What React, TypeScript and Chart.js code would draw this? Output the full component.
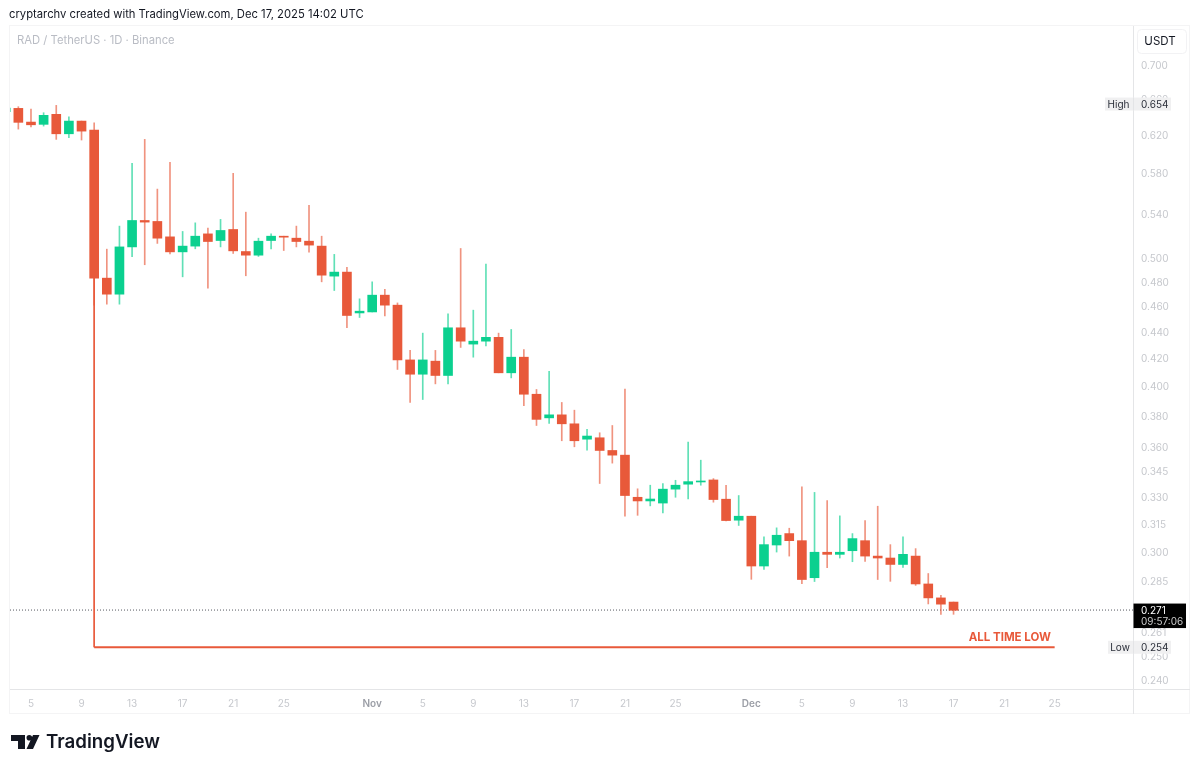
import React, { useEffect, useRef } from "react";
import { Chart, registerables } from "chart.js";

Chart.register(...registerables);

// Daily candles, index 0 in these arrays is Oct 3; x value = array index - 2 (days since Oct 5)
const firstDay = -2;
const opens = [0.6455,0.6491,0.6338,0.6313,0.6424,0.6210,0.6349,0.6250,0.4830,0.4697,0.5100,0.5340,0.5331,0.5190,0.5056,0.5107,0.5217,0.5157,0.5257,0.5059,0.5027,0.5157,0.5196,0.5178,0.5151,0.5107,0.4847,0.4881,0.4546,0.4554,0.4689,0.4608,0.4189,0.4086,0.4180,0.4077,0.4430,0.4306,0.4328,0.4357,0.4096,0.4209,0.3946,0.3787,0.3807,0.3748,0.3649,0.3658,0.3578,0.3549,0.3298,0.3277,0.3265,0.3345,0.3374,0.3387,0.3399,0.3287,0.3169,0.3191,0.2926,0.3035,0.3096,0.3058,0.2867,0.2997,0.2986,0.3005,0.3058,0.2977,0.2967,0.2934,0.2977,0.2836,0.2768,0.2748];
const closes = [0.6495,0.6335,0.6308,0.6413,0.6210,0.6349,0.6239,0.4830,0.4697,0.5100,0.5340,0.5325,0.5178,0.5056,0.5107,0.5196,0.5148,0.5248,0.5065,0.5027,0.5151,0.5196,0.5187,0.5148,0.5116,0.4855,0.4881,0.4526,0.4560,0.4689,0.4608,0.4189,0.4086,0.4189,0.4077,0.4430,0.4328,0.4328,0.4357,0.4096,0.4209,0.3946,0.3777,0.3807,0.3748,0.3639,0.3669,0.3578,0.3549,0.3308,0.3277,0.3288,0.3345,0.3368,0.3389,0.3393,0.3285,0.3167,0.3191,0.2926,0.3037,0.3087,0.3058,0.2858,0.2997,0.2986,0.2997,0.3069,0.2977,0.2967,0.2934,0.2986,0.2836,0.2768,0.2738,0.2709];
const highs = [0.6506,0.6510,0.6483,0.6442,0.6525,0.6397,0.6349,0.6330,0.5080,0.5288,0.5898,0.6150,0.5640,0.5909,0.5239,0.5318,0.5269,0.5350,0.5797,0.5418,0.5178,0.5217,0.5196,0.5288,0.5482,0.5196,0.5034,0.4921,0.4659,0.4799,0.4736,0.4626,0.4259,0.4389,0.4259,0.4539,0.5086,0.4568,0.4949,0.4389,0.4417,0.4266,0.3979,0.4106,0.3890,0.3838,0.3712,0.3690,0.3737,0.3981,0.3347,0.3368,0.3378,0.3397,0.3630,0.3518,0.3407,0.3368,0.3308,0.3191,0.3078,0.3127,0.3125,0.3358,0.3326,0.3279,0.3193,0.3096,0.3167,0.3247,0.3037,0.3078,0.3016,0.2888,0.2780,0.2748];
const lows = [0.6438,0.6261,0.6286,0.6294,0.6150,0.6168,0.6143,0.4608,0.4616,0.4616,0.5013,0.4944,0.5131,0.5038,0.4841,0.5083,0.4747,0.5100,0.5042,0.4850,0.5016,0.5083,0.5068,0.5100,0.5054,0.4799,0.4727,0.4430,0.4510,0.4554,0.4523,0.4120,0.3890,0.3910,0.4018,0.4018,0.4281,0.4209,0.4293,0.4096,0.4060,0.3869,0.3737,0.3750,0.3639,0.3601,0.3580,0.3378,0.3500,0.3191,0.3196,0.3249,0.3209,0.3298,0.3288,0.3368,0.3270,0.3165,0.3140,0.2859,0.2909,0.2998,0.2977,0.2838,0.2848,0.2918,0.2967,0.2948,0.2950,0.2858,0.2849,0.2919,0.2829,0.2739,0.2690,0.2690];

const yTicks = [0.7,0.66,0.62,0.58,0.54,0.5,0.48,0.46,0.44,0.42,0.4,0.38,0.36,0.345,0.33,0.315,0.3,0.285,0.261,0.25,0.24];
const xTickDays = [0,4,8,12,16,20,27,31,35,39,43,47,51,57,61,65,69,73,77,81];
const xTickLabels = ["5","9","13","17","21","25","Nov","5","9","13","17","21","25","Dec","5","9","13","17","21","25"];

const highValue = 0.654;
const lowValue = 0.254;
const lastValue = 0.271;
const atlStartDay = 5;
const atlStartPrice = 0.483;
const atlEndDay = 81;
const xMin = -1.66;
const xMax = 87.2;
const yMin = 0.2362;
const yMax = 0.7479;

const RED = "#e8593a";
const GREEN = "#0bd08f";
const FONT = "Inter, 'Noto Sans', sans-serif";

const xs = opens.map((_, i) => i + firstDay);
const colors = opens.map((o, i) => (closes[i] >= o ? GREEN : RED));
const wickColors = opens.map((o, i) => (closes[i] >= o ? "rgba(11,208,143,0.65)" : "rgba(232,89,58,0.65)"));

const chrome = {
  id: "chrome",
  beforeDraw(chart: any) {
    const c = chart.ctx;
    c.save();
    c.fillStyle = "#fff";
    c.fillRect(0, 0, 1200, 770);
    c.strokeStyle = "#f4f4f5";
    c.lineWidth = 1;
    c.strokeRect(9.5, 25.5, 1180, 688);
    c.strokeStyle = "#e4e5e7";
    c.beginPath();
    c.moveTo(1133.5, 26);
    c.lineTo(1133.5, 714);
    c.moveTo(10, 689.5);
    c.lineTo(1190, 689.5);
    c.stroke();
    c.strokeStyle = "#f2f2f4";
    c.beginPath();
    c.roundRect(1137.5, 29.5, 49, 24, 4);
    c.stroke();
    c.restore();
  },
  afterDraw(chart: any) {
    const c = chart.ctx;
    const y = chart.scales.y;
    c.save();
    c.textBaseline = "middle";

    c.fillStyle = "#131722";
    c.textAlign = "left";
    c.font = `400 11.25px ${FONT}`;
    c.fillText("cryptarchv created with TradingView.com, Dec 17, 2025 14:02 UTC", 9, 15);

    c.fillStyle = "#b9bcc4";
    c.font = `400 11.25px ${FONT}`;
    c.fillText("RAD / TetherUS · 1D · Binance", 17, 40.5);

    c.fillStyle = "#131722";
    c.textAlign = "center";
    c.font = `400 11.5px ${FONT}`;
    c.fillText("USDT", 1160, 41.5);

    // High / Low chips
    const chip = (label: string, value: number, left: number) => {
      const p = y.getPixelForValue(value);
      c.fillStyle = "#f0f0f1";
      c.fillRect(left, p - 6.5, 1171 - left, 13);
      c.fillStyle = "#e3e4e6";
      c.fillRect(1133, p - 6.5, 1, 13);
      c.fillStyle = "#2a2e39";
      c.font = `400 10px ${FONT}`;
      c.textAlign = "center";
      c.fillText(label, (left + 1132) / 2, p + 0.5);
      c.textAlign = "left";
      c.fillText(value.toFixed(3), 1141, p + 0.5);
    };
    chip("High", highValue, 1105);
    chip("Low", lowValue, 1108);

    // Last price tag
    const lp = y.getPixelForValue(lastValue);
    c.fillStyle = "#000";
    c.fillRect(1133.5, lp - 6.5, 52.5, 24.5);
    c.fillStyle = "#fff";
    c.textAlign = "left";
    c.font = `400 10px ${FONT}`;
    c.fillText(lastValue.toFixed(3), 1141, lp + 0.5);
    c.fillStyle = "#c9c9c9";
    c.fillText("09:57:06", 1141, lp + 11.5);

    // All time low caption
    c.fillStyle = RED;
    c.textAlign = "right";
    c.font = `700 11.5px ${FONT}`;
    c.fillText("ALL TIME LOW", 1051, y.getPixelForValue(lowValue) - 9.5);

    // Logo
    c.fillStyle = "#131722";
    c.beginPath();
    c.moveTo(11, 735);
    c.lineTo(25, 735);
    c.lineTo(25, 749);
    c.lineTo(18, 749);
    c.lineTo(18, 741);
    c.lineTo(11, 741);
    c.closePath();
    c.moveTo(33, 735);
    c.lineTo(39.5, 735);
    c.lineTo(33, 749);
    c.lineTo(26.5, 749);
    c.closePath();
    c.fill();
    c.beginPath();
    c.arc(29.3, 737.8, 2.8, 0, Math.PI * 2);
    c.fill();
    c.textAlign = "left";
    c.font = `600 18.7px ${FONT}`;
    c.fillText("TradingView", 46, 742.5);
    c.restore();
  },
};

export default function App() {
  const ref = useRef<HTMLCanvasElement>(null);
  useEffect(() => {
    const chart = new Chart(ref.current as HTMLCanvasElement, {
      type: "bar",
      data: {
        datasets: [
          {
            type: "line",
            data: [{ x: xMin, y: lastValue }, { x: xMax, y: lastValue }],
            borderColor: "#55585f",
            borderWidth: 1,
            borderDash: [1, 2],
            pointRadius: 0,
            order: 5,
          },
          {
            type: "bar",
            data: xs.map((x, i) => ({ x, y: [lows[i], highs[i]] })),
            backgroundColor: wickColors,
            barThickness: 1,
            grouped: false,
            order: 4,
          },
          {
            type: "bar",
            data: xs.map((x, i) => ({ x, y: [opens[i], closes[i]] })),
            backgroundColor: colors,
            barThickness: 9,
            grouped: false,
            order: 3,
          },
          {
            type: "line",
            data: [{ x: atlStartDay, y: atlStartPrice }, { x: atlStartDay, y: lowValue }],
            borderColor: RED,
            borderWidth: 1,
            pointRadius: 0,
            order: 2,
          },
          {
            type: "line",
            data: [{ x: atlStartDay, y: lowValue }, { x: atlEndDay, y: lowValue }],
            borderColor: RED,
            borderWidth: 2,
            pointRadius: 0,
            order: 1,
          },
        ] as any,
      },
      options: {
        animation: false,
        responsive: false,
        devicePixelRatio: 1,
        layout: { padding: { left: 10, right: 0, top: 27, bottom: 0 } },
        plugins: { legend: { display: false }, tooltip: { enabled: false } },
        scales: {
          x: {
            type: "linear",
            offset: false,
            bounds: "data",
            min: xMin,
            max: xMax,
            grid: { display: false },
            border: { display: false },
            afterFit: (s: any) => { s.height = 81; },
            afterBuildTicks: (s: any) => { s.ticks = xTickDays.map((value) => ({ value })); },
            ticks: {
              autoSkip: false,
              maxRotation: 0,
              padding: 1,
              font: (ctx: any) => ({ family: FONT, size: 10, weight: isNaN(Number(xTickLabels[ctx.index])) ? "600" : "400" }),
              color: (ctx: any) => (isNaN(Number(xTickLabels[ctx.index])) ? "#9b9ea6" : "#c6c8cd"),
              callback: (_v: any, i: number) => xTickLabels[i],
            },
          },
          y: {
            type: "logarithmic",
            position: "right",
            bounds: "data",
            min: yMin,
            max: yMax,
            grid: { display: false },
            border: { display: false },
            afterFit: (s: any) => { s.width = 67; },
            afterBuildTicks: (s: any) => { s.ticks = yTicks.map((value) => ({ value })); },
            ticks: {
              autoSkip: false,
              padding: 0,
              labelOffset: 1,
              major: { enabled: false },
              font: { family: FONT, size: 10 },
              color: "#c6c8cd",
              callback: (v: any) => Number(v).toFixed(3),
            },
          },
        },
      } as any,
      plugins: [chrome],
    });
    return () => chart.destroy();
  }, []);
  return (
    <div style={{ position: "absolute", left: 0, top: 0, width: 1200, height: 770 }}>
      <canvas ref={ref} width={1200} height={770} style={{ display: "block", width: 1200, height: 770 }} />
    </div>
  );
}
